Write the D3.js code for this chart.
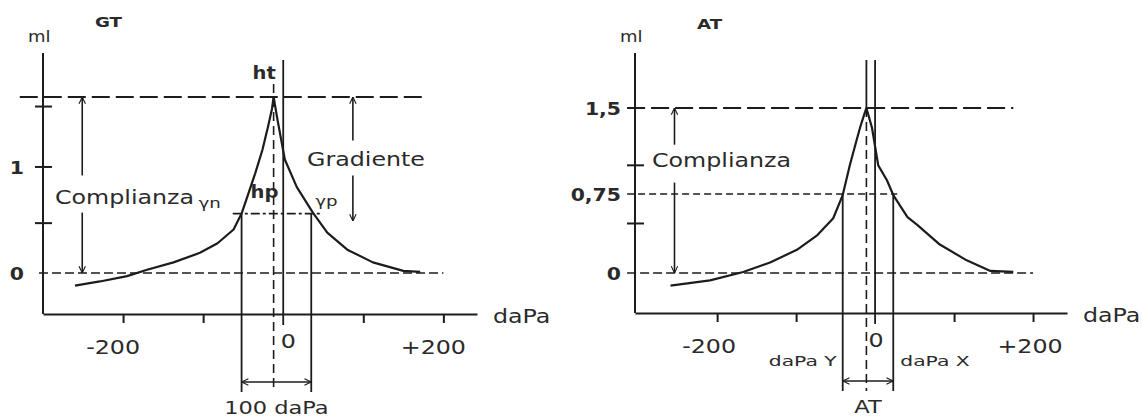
<!DOCTYPE html>
<html><head><meta charset="utf-8">
<script src="https://cdn.jsdelivr.net/npm/d3@7"></script>
<style>body{margin:0;background:#fff}svg{display:block}</style>
</head><body><svg id="c" width="1142" height="419"></svg>
<script>
// ---------- DATA ----------
const gtPressure = [-260,-229,-195,-170,-137,-104,-82,-62,-52,-35,-26,-19,-14,-12,-7,2,17,37,55,80,112,150,171];
const gtVolume   = [-0.12,-0.08,-0.03,0.03,0.10,0.19,0.28,0.41,0.56,0.94,1.16,1.38,1.55,1.66,1.44,1.07,0.81,0.57,0.38,0.22,0.10,0.02,0.01];
const atPressure = [-259,-209,-167,-133,-99,-73,-53,-41,-32,-25,-19,-13,-11,-4,4,15,23,41,53,82,116,146,175];
const atVolume   = [-0.12,-0.07,0.01,0.10,0.22,0.36,0.52,0.74,1.00,1.18,1.33,1.46,1.50,1.33,1.00,0.87,0.74,0.53,0.46,0.27,0.12,0.02,0.01];
const xTickValues = [-200,-100,100,200];
const xTickLabels = ["-200","0","+200"];
const xTickLabelValues = [-200,0,200];
const gtYTicks = [0.47,1,1.57];
const gtYLabelValues = [0,1];
const gtYLabels = ["0","1"];
const atYTicks = [0.47,1];
const atYLabelValues = [0,0.75,1.5];
const atYLabels = ["0","0,75","1,5"];
// GT annotations (daPa / ml)
const gtPeak = [-12, 1.66];
const gtHalf = [0.56, -52, 35];      // level, left, right
// AT annotations
const atPeak = [-11, 1.5];
const atHalf = [0.75, -41, 23];

// ---------- SETUP ----------
const svg = d3.select("#c");
const ink = "#1c1c1c";
const txt = "#2a2a2a";
const SX = 1.25;
const FONT = "DejaVu Sans, Verdana, sans-serif";

const defs = svg.append("defs");
defs.append("marker").attr("id","arr").attr("viewBox","0 0 10 10")
  .attr("refX",9.5).attr("refY",5).attr("markerWidth",8).attr("markerHeight",8)
  .attr("markerUnits","userSpaceOnUse").attr("orient","auto-start-reverse")
  .append("path").attr("d","M1,1 L9.5,5 L1,9").attr("fill","none")
  .attr("stroke",ink).attr("stroke-width",1.4);

function line(g,x1,y1,x2,y2,opt={}) {
  const l = g.append("line").attr("x1",x1).attr("y1",y1).attr("x2",x2).attr("y2",y2)
    .attr("stroke",ink).attr("stroke-width",opt.w||1.8);
  if (opt.dash) l.attr("stroke-dasharray",opt.dash);
  if (opt.ms) l.attr("marker-start","url(#arr)");
  if (opt.me) l.attr("marker-end","url(#arr)");
  return l;
}
function text(g,x,y,s,opt={}) {
  return g.append("text")
    .attr("transform",`translate(${x},${y}) scale(${opt.sx||SX},1)`)
    .attr("text-anchor",opt.anchor||"start")
    .attr("font-family",opt.family||FONT)
    .attr("font-size",opt.size||19)
    .attr("font-weight",opt.bold?"bold":"normal")
    .attr("fill",opt.fill||txt)
    .text(s);
}

function panel(c) {
  const g = svg.append("g");
  const x = c.x, y = c.y;
  const ax = x.range()[0], ay = d3.max(y.range()), top = d3.min(y.range());
  // x axis via d3
  g.append("g").attr("transform",`translate(0,${ay})`)
    .call(d3.axisBottom(x).tickValues(xTickValues).tickSizeInner(9).tickSizeOuter(0).tickFormat(""))
    .call(s=>{s.selectAll("path,line").attr("stroke",ink).attr("stroke-width",2);});
  // y axis
  line(g,ax,top,ax,ay,{w:2});
  c.yTicks.forEach(v=>line(g,ax-8,y(v),ax+9,y(v),{w:2}));
  // zero vertical
  line(g,x(0),top+7,x(0),ay+11,{w:1.8});
  // dashed horizontals
  line(g,x(c.topLine[0]),y(c.peak[1]),x(c.topLine[1]),y(c.peak[1]),{dash:"18,6",w:1.8});
  line(g,x(c.zeroLine[0]),y(0),x(c.zeroLine[1]),y(0),{dash:"9,4",w:1.6});
  line(g,x(c.halfLine[0]),y(c.half[0]),x(c.halfLine[1]),y(c.half[0]),{dash:c.halfDash,w:1.6});
  // peak vertical
  if (c.peakSolid) line(g,x(c.peak[0]),top+7,x(c.peak[0]),y(c.peak[1]),{w:1.8});
  line(g,x(c.peak[0]),c.peakDashTop!=null?c.peakDashTop:y(c.peak[1]),x(c.peak[0]),ay+78,{dash:"9,5",w:1.6});
  // half verticals and dimension
  line(g,x(c.half[1]),y(c.half[0]),x(c.half[1]),ay+78,{w:1.8});
  line(g,x(c.half[2]),y(c.half[0]),x(c.half[2]),ay+78,{w:1.8});
  line(g,x(c.half[1]),ay+68,x(c.half[2]),ay+68,{w:1.6,ms:true,me:true});
  // compliance arrow
  const cx = x(c.compX);
  line(g,cx,y(c.peak[1]),cx,y(c.compGap[0]),{w:1.6,ms:true});
  line(g,cx,y(c.compGap[1]),cx,y(0),{w:1.6,me:true});
  // curve
  const pts = c.px.map((p,i)=>[p,c.vol[i]]);
  g.append("path").datum(pts)
    .attr("d",d3.line().x(d=>x(d[0])).y(d=>y(d[1])).curve(d3.curveLinear))
    .attr("fill","none").attr("stroke",ink).attr("stroke-width",2.2).attr("stroke-linejoin","round");
  // labels
  c.yLabelValues.forEach((v,i)=>text(g,ax-c.yLabOff,y(v)+7,c.yLabels[i],{anchor:"end",bold:true,size:17,sx:1.2}));
  xTickLabelValues.forEach((v,i)=>text(g,x(v)+c.xLabDx[i],ay+(v===0?34:40),xTickLabels[i],{anchor:"middle"}));
  text(g,x.range()[1]+16,ay+9,"daPa");
  text(g,ax-15,42,"ml",{size:15,sx:1.2});
  text(g,c.titleX,c.titleY,c.title,{bold:true,size:14,sx:1.3});
  text(g,(x(c.half[1])+x(c.half[2]))/2,ay+100,c.dimLabel,{anchor:"middle",size:18});
  return {g,x,y,ax,ay};
}

// ---------- GT ----------
const gt = panel({
  x: d3.scaleLinear().domain([-300,242]).range([43,477]),
  y: d3.scaleLinear().domain([-0.387,2.075]).range([314,53]),
  px: gtPressure, vol: gtVolume, yTicks: gtYTicks,
  yLabelValues: gtYLabelValues, yLabels: gtYLabels, yLabOff: 19,
  peak: gtPeak, half: gtHalf, halfDash:"9,3,3,3",
  topLine:[-329,174], zeroLine:[-305,200], halfLine:[-63,49],
  peakSolid:false, peakDashTop:84,
  compX:-251, compGap:[0.92,0.57],
  xLabDx:[-10,5,-10], title:"GT", titleX:95, titleY:27, dimLabel:"100 daPa"
});
{
  const {g,x,y} = gt;
  text(g,x(gtPeak[0])-21,79,"ht",{bold:true,size:17,sx:1.15});
  text(g,x(gtPeak[0])-23,198,"hp",{bold:true,size:17,sx:1.15});
  text(g,x(gtHalf[1])-43,208,"γn",{size:14,sx:1.3});
  text(g,x(gtHalf[2])+4,206,"γp",{size:14,sx:1.3});
  text(g,55,204,"Complianza");
  text(g,307,166,"Gradiente");
  const gx = x(87);
  line(g,gx,y(gtPeak[1]),gx,y(1.25),{w:1.6,ms:true});
  line(g,gx,y(0.92),gx,y(0.49),{w:1.6,me:true});
}

// ---------- AT ----------
const at = panel({
  x: d3.scaleLinear().domain([-304,243]).range([635,1067]),
  y: d3.scaleLinear().domain([-0.38,0,0.75,1.5,1.98]).range([313,273,194,108,53]),
  px: atPressure, vol: atVolume, yTicks: atYTicks,
  yLabelValues: atYLabelValues, yLabels: atYLabels, yLabOff: 14,
  peak: atPeak, half: atHalf, halfDash:"7,4",
  topLine:[-314,175], zeroLine:[-314,200], halfLine:[-314,28],
  peakSolid:true, peakDashTop:null,
  compX:-254, compGap:[1.18,0.85],
  xLabDx:[-8,1,-3], title:"AT", titleX:697, titleY:29, dimLabel:"AT"
});
{
  const {g,x} = at;
  text(g,x(atHalf[1])-6,366,"daPa Y",{size:14,sx:1.45,anchor:"end"});
  text(g,x(atHalf[2])+7,366,"daPa X",{size:14,sx:1.45});
  text(g,652,167,"Complianza");
}
</script></body></html>
